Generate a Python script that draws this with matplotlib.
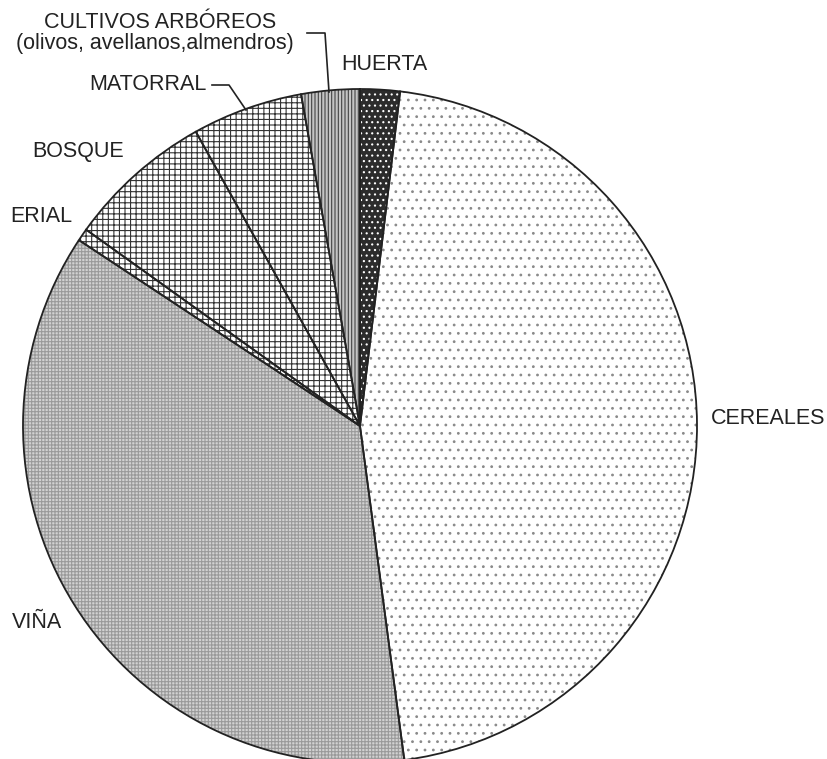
import matplotlib.pyplot as plt

# ---- Data ----------------------------------------------------------------
labels = ["HUERTA", "CEREALES", "VIÑA", "ERIAL", "BOSQUE", "MATORRAL",
          "CULTIVOS ARBÓREOS\n(olivos, avellanos,almendros)"]
shares = [1.9, 46.0, 36.4, 0.6, 7.0, 5.3, 2.8]   # percent of area

# fill style per slice: face colour, hatch colour, hatch pattern
faces   = ["#2c2c2c", "white", "#d2d2d2", "white", "white", "white", "#c4c4c4"]
hcolors = ["white", "#8a8a8a", "#9a9a9a", "#333333", "#333333", "#333333", "#444444"]
hatches = ["...", "..", "+++++", "+++", "+++", "+++", "|||||"]

W, H = 828, 759
plt.rcParams["font.family"] = ["Liberation Sans", "DejaVu Sans"]
plt.rcParams["hatch.linewidth"] = 0.8

fig = plt.figure(figsize=(W / 100, H / 100), dpi=100)

# pie centre (360, 426) px from top-left, radius 337 px
cx, cy, r = 360, 426, 337
ax = fig.add_axes([(cx - r) / W, (H - cy - r) / H, 2 * r / W, 2 * r / H])

wedges, _ = ax.pie(shares, startangle=90, counterclock=False,
                   colors=faces, wedgeprops=dict(linewidth=0))
for w, hc, hp in zip(wedges, hcolors, hatches):
    w.set_hatch(hp)
    w.set_edgecolor(hc)

# outlines on top
ax.pie(shares, startangle=90, counterclock=False, colors=["none"] * len(shares),
       wedgeprops=dict(linewidth=1.3, edgecolor="#222222"))
ax.set_xlim(-1, 1)
ax.set_ylim(-1, 1)
ax.set_aspect("equal")


def fx(x):
    return x / W


def fy(y):
    return 1 - y / H


txt = dict(fontsize=15.5, color="#222222")
fig.text(fx(160), fy(22), "CULTIVOS ARBÓREOS", ha="center", va="center", **txt)
fig.text(fx(155), fy(44), "(olivos, avellanos,almendros)", ha="center", va="center", **txt)
fig.text(fx(384), fy(64), "HUERTA", ha="center", va="center", **txt)
fig.text(fx(148), fy(85), "MATORRAL", ha="center", va="center", **txt)
fig.text(fx(78), fy(152), "BOSQUE", ha="center", va="center", **txt)
fig.text(fx(41), fy(216), "ERIAL", ha="center", va="center", **txt)
fig.text(fx(37), fy(623), "VIÑA", ha="center", va="center", **txt)
fig.text(fx(768), fy(419), "CEREALES", ha="center", va="center", **txt)

# leader lines
lk = dict(color="#222222", linewidth=1.2, transform=fig.transFigure)
fig.add_artist(plt.Line2D([fx(307), fx(325), fx(329)], [fy(33), fy(33), fy(92)], **lk))
fig.add_artist(plt.Line2D([fx(212), fx(229), fx(246)], [fy(85), fy(85), fy(110)], **lk))

fig.savefig("out.png", dpi=100)
